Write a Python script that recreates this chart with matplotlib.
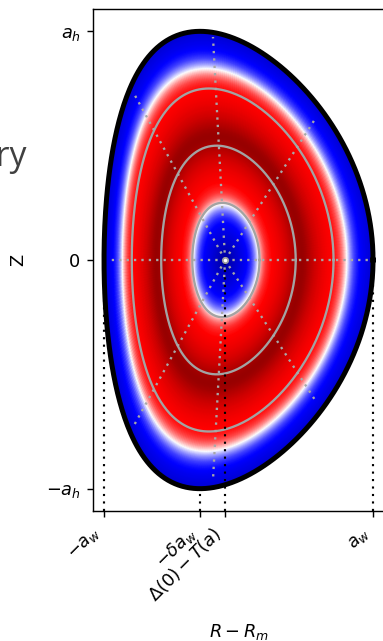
import numpy as np
import matplotlib
matplotlib.use("Agg")
import matplotlib.pyplot as plt
from matplotlib.colors import Normalize

# ---- shape / profile parameters ----
a_w = 1.0                 # half width
kappa = 1.7               # elongation, a_h = kappa * a_w
delta_edge = 0.286        # edge triangularity
axis_shift = -0.1         # Delta(0) - T(a)
delta_power = 0.7
surface_rho = [0.25, 0.5, 0.75]

field_peak_rho = 0.54     # radius of the dark-red maximum
field_half_width = 0.26   # distance from the maximum to the white rings
field_soft = 0.04
field_step_amp = 0.5
field_step_width = 0.2
field_red_gain, field_red_power = 0.4, 3
field_blue_gain, field_blue_power = 0.33, 2

# dotted grey "theta" spokes: end points (R - R_m, Z)
spoke_end_r = [0.964, 0.569, -0.19, -0.784, -0.978, -0.784, -0.19, 0.569]
spoke_end_z = [0.0, 1.048, 1.658, 1.249, 0.0, -1.242, -1.636, -1.041]

xtick_vals = [-a_w, -delta_edge * a_w, axis_shift, a_w]
xtick_labels = [r'$-a_w$', r'$-\delta a_w$', r'$\Delta(0)-T(a)$', r'$a_w$']
ytick_vals = [kappa * a_w, 0.0, -kappa * a_w]
ytick_labels = [r'$a_h$', '0', r'$-a_h$']


def surface(rho, theta):
    x0 = axis_shift * (1 - rho ** 2)
    d = delta_edge * rho ** delta_power
    R = x0 + rho * a_w * np.cos(theta + np.arcsin(d) * np.sin(theta))
    Z = kappa * rho * a_w * np.sin(theta)
    return R, Z


DPI = 128
fig = plt.figure(figsize=(383 / DPI, 641 / DPI), dpi=DPI)
ax = fig.add_axes([93 / 383, 130 / 641, 292 / 383, 502 / 641])

# colour field
rho = np.linspace(0, 1, 260)
theta = np.linspace(0, 2 * np.pi, 361)
RHO, TH = np.meshgrid(rho, theta)
RR, ZZ = surface(RHO, TH)
dist = np.sqrt((RHO - field_peak_rho) ** 2 + field_soft ** 2) - field_soft
t = 1 - dist / field_half_width
F = np.where(t > 0,
             field_red_gain * np.abs(t) ** field_red_power,
             -field_blue_gain * np.abs(t) ** field_blue_power)
F = F + field_step_amp * np.tanh(t / field_step_width)
ax.pcolormesh(RR, ZZ, F, cmap='seismic', shading='gouraud',
              norm=Normalize(vmin=-1, vmax=1), zorder=1)

# flux surfaces
th = np.linspace(0, 2 * np.pi, 400)
for r in surface_rho:
    R, Z = surface(r, th)
    ax.plot(R, Z, color='#a3a3a3', lw=1.3, zorder=3)

# spokes
for er, ez in zip(spoke_end_r, spoke_end_z):
    ax.plot([axis_shift, er], [0, ez], color='#a8a8a8', lw=1.3,
            ls=(0, (1, 2.2)), zorder=4)

# boundary
Rb, Zb = surface(1.0, th)
ax.plot(Rb, Zb, color='black', lw=2.8, zorder=5)

ylo, yhi = -1.866, 1.866
# black dotted guides
dot = (0, (1, 2.5))
ax.plot([-a_w, -a_w], [ylo, 0], color='black', lw=1.2, ls=dot, zorder=6)
ax.plot([a_w, a_w], [ylo, 0], color='black', lw=1.2, ls=dot, zorder=6)
ax.plot([-delta_edge * a_w] * 2, [ylo, -kappa * a_w], color='black', lw=1.2, ls=dot, zorder=6)
ax.plot([axis_shift, axis_shift], [ylo, 0], color='black', lw=1.2, ls=dot, zorder=6)

ax.plot([axis_shift], [0], 'o', ms=3, mfc='white', mec='#a0a0a0', mew=1, zorder=7)

ax.set_xlim(-1.082, 1.089)
ax.set_ylim(ylo, yhi)
ax.set_xticks(xtick_vals)
ax.set_xticklabels(xtick_labels, rotation=45, ha='right')
ax.set_yticks(ytick_vals)
ax.set_yticklabels(ytick_labels)
ax.set_xlabel(r'$R-R_m$')
ax.set_ylabel('Z')
ax.xaxis.set_label_coords(0.5, -0.222)
ax.xaxis.label.set_va('top')
ax.yaxis.set_label_coords(-0.226, 0.5)

fig.text(26 / 383, 1 - 166 / 641, 'Geometry', ha='right', va='baseline',
         fontsize=19, color='#404040', family=['Open Sans', 'DejaVu Sans'])

fig.savefig('out.png', dpi=DPI)
